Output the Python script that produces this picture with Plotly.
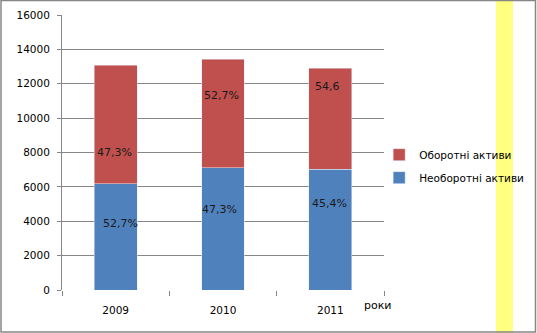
import plotly.graph_objects as go

years = ["2009", "2010", "2011"]
neoborotni = [6185, 7116, 7040]
oborotni = [6906, 6324, 5876]
lbl_neob = ["52,7%", "47,3%", "45,4%"]
lbl_obor = ["47,3%", "52,7%", "54,6"]
lbl_neob_y = [3898, 4713, 5062]
lbl_obor_y = [8029, 11345, 11869]
lbl_neob_dx = [5, -4, -1]
lbl_obor_dx = [-1, -2, -3]

FONT = "DejaVu Sans"
BLUE = "#4F81BD"
RED = "#C0504D"
GRID = "#868686"

x = list(range(len(years)))

fig = go.Figure()
fig.add_trace(go.Bar(x=x, y=neoborotni, name="Необоротні активи", marker_color=BLUE,
                     width=0.4, legendgroup="a", legendrank=2))
fig.add_trace(go.Bar(x=x, y=oborotni, name="Оборотні активи", marker_color=RED,
                     width=0.4, legendgroup="b", legendrank=1))

for i in x:
    fig.add_annotation(x=i, y=lbl_neob_y[i], text=lbl_neob[i], showarrow=False,
                       xshift=lbl_neob_dx[i], font=dict(family=FONT, size=11, color="#1a1a1a"))
    fig.add_annotation(x=i, y=lbl_obor_y[i], text=lbl_obor[i], showarrow=False,
                       xshift=lbl_obor_dx[i], font=dict(family=FONT, size=11, color="#1a1a1a"))

fig.add_annotation(xref="paper", yref="paper", x=0.981, y=-0.058, text="роки",
                   xanchor="center", yanchor="middle",
                   showarrow=False, font=dict(family=FONT, size=11, color="#000"))

# yellow stripe
fig.add_shape(type="rect", xref="paper", yref="paper", x0=1.3478, x1=1.4006,
              y0=-0.16, y1=1.06, fillcolor="#FFFF80", line_width=0, layer="below")
# outer border
fig.add_shape(type="rect", xref="paper", yref="paper", x0=-0.1894, x1=1.4705,
              y0=-0.1527, y1=1.0527, line=dict(color=GRID, width=1.5), fillcolor="rgba(0,0,0,0)",
              layer="above")

fig.update_layout(
    width=537, height=333,
    margin=dict(l=62, r=153, t=15, b=43, autoexpand=False),
    barmode="stack",
    paper_bgcolor="white", plot_bgcolor="white",
    font=dict(family=FONT, size=10.5, color="#000"),
    showlegend=True,
    legend=dict(x=0.985, y=0.545, xanchor="left", yanchor="top", traceorder="grouped",
                font=dict(family=FONT, size=10.5), tracegroupgap=4, itemwidth=30,
                bgcolor="rgba(0,0,0,0)"),
    bargap=0.6,
)
fig.update_xaxes(range=[-0.5, 2.5], tickvals=x, ticktext=years, showgrid=False,
                 zeroline=False, showline=False, ticks="outside", ticklen=10,
                 tickcolor="rgba(0,0,0,0)",
                 minor=dict(tickmode="array", tickvals=[-0.5, 0.5, 1.5, 2.5], ticks="outside",
                            ticklen=5, tickcolor=GRID, showgrid=False))
fig.update_yaxes(range=[0, 16000], dtick=2000, tickformat="d", showgrid=True, gridcolor=GRID,
                 gridwidth=1, zeroline=False, showline=True, linecolor=GRID, ticks="outside",
                 ticklen=4, tickcolor=GRID, ticklabelstandoff=5)

fig.write_html("out.html")
